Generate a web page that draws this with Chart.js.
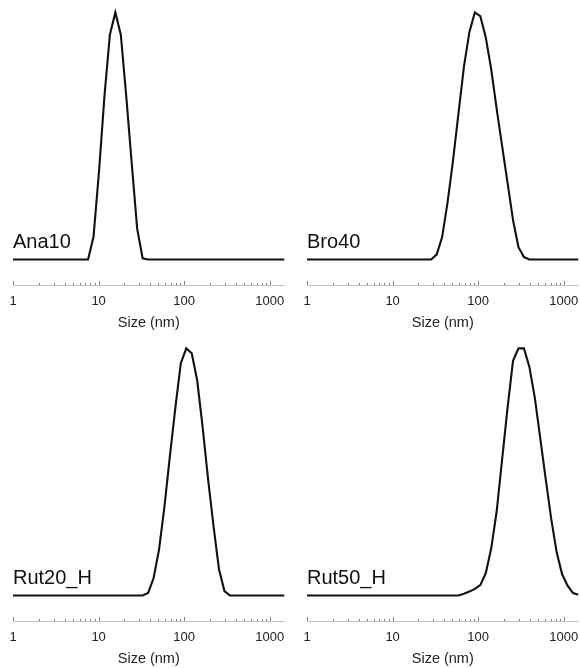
<!DOCTYPE html>
<html>
<head>
<meta charset="utf-8">
<title>Size distributions</title>
<script src="https://cdn.jsdelivr.net/npm/chart.js@4.4.1/dist/chart.umd.min.js"></script>
<style>
    html, body { margin: 0; padding: 0; background: #fff; }
    body { width: 580px; height: 668px; position: relative; overflow: hidden; }
    canvas { position: absolute; }
</style>
</head>
<body>
<canvas id="ana10" width="290" height="332" style="left:0;top:0"></canvas>
<canvas id="bro40" width="290" height="332" style="left:294px;top:0"></canvas>
<canvas id="rut20" width="290" height="332" style="left:0;top:336px"></canvas>
<canvas id="rut50" width="290" height="332" style="left:294px;top:336px"></canvas>
<script>
// Size bins (nm) and relative intensity for each sample
const ana10Size = [1, 7.531, 8.721, 10.1, 11.7, 13.54, 15.69, 18.17, 21.04, 24.36, 28.21, 32.67, 37.84, 1484];
const ana10Int  = [0, 0, 9.2, 35.5, 66, 91, 100, 91, 66, 39, 12.5, 0.5, 0, 0];

const bro40Size = [1, 28.21, 32.67, 37.84, 43.82, 50.75, 58.77, 68.06, 78.82, 91.28, 105.7, 122.4, 141.8, 164.2, 190.1, 220.2, 255.0, 295.3, 342.0, 396.1, 1484];
const bro40Int  = [0, 0, 2, 9, 23, 40, 59, 78, 92, 100, 98.5, 90, 77, 61, 46, 31, 16, 5, 1, 0, 0];

const rut20Size = [1, 32.67, 37.84, 43.82, 50.75, 58.77, 68.06, 78.82, 91.28, 105.7, 122.4, 141.8, 164.2, 190.1, 220.2, 255.0, 295.3, 342.0, 1484];
const rut20Int  = [0, 0, 1, 7, 18.5, 36, 56.5, 76, 94, 100, 98, 87, 68, 47, 28, 10.5, 1.8, 0, 0];

const rut50Size = [1, 58.77, 68.06, 78.82, 91.28, 105.7, 122.4, 141.8, 164.2, 190.1, 220.2, 255.0, 295.3, 342.0, 396.1, 458.7, 531.2, 615.1, 712.4, 825.0, 955.4, 1106, 1281, 1484];
const rut50Int  = [0, 0, 0.7, 1.6, 2.7, 4.2, 9, 19, 34, 55, 76, 95, 100, 100, 92.5, 80, 63.5, 47, 31, 17.5, 8.6, 4, 1, 0.3];

const tickLabels = [1, 10, 100, 1000];
const sizeMin = 1;
const sizeMax = 1484;

const FONT = '"Liberation Sans", Arial, sans-serif';

// Sample name written just above the baseline
const panelLabel = {
    id: 'panelLabel',
    afterDatasetsDraw(chart, args, opts) {
        const { ctx, chartArea } = chart;
        const y0 = chart.scales.y.getPixelForValue(0);
        ctx.save();
        ctx.font = '20px ' + FONT;
        ctx.fillStyle = '#111';
        ctx.textBaseline = 'alphabetic';
        ctx.fillText(opts.text, chartArea.left, y0 - 12);
        ctx.restore();
    }
};

// Small tick marks pointing up from the size axis
const upTicks = {
    id: 'upTicks',
    afterDraw(chart) {
        const sc = chart.scales.x;
        const ctx = chart.ctx;
        ctx.save();
        ctx.strokeStyle = '#808080';
        ctx.lineWidth = 1;
        sc.ticks.forEach((t) => {
            const v = t.value;
            const exp = Math.floor(Math.log10(v) + 1e-9);
            const sig = v / Math.pow(10, exp);
            if (Math.abs(sig - Math.round(sig)) > 1e-6) return;
            const major = Math.round(sig) === 1;
            const x = Math.round(sc.getPixelForValue(v)) + 0.5;
            ctx.beginPath();
            ctx.moveTo(x, sc.top);
            ctx.lineTo(x, sc.top - (major ? 4 : 2));
            ctx.stroke();
        });
        ctx.restore();
    }
};

function makeChart(id, label, sizes, values) {
    const ctx = document.getElementById(id).getContext('2d');
    const points = sizes.map((s, i) => ({ x: s, y: values[i] }));
    return new Chart(ctx, {
        type: 'line',
        data: {
            datasets: [{
                data: points,
                borderColor: '#111',
                borderWidth: 2.1,
                pointRadius: 0,
                tension: 0,
                fill: false
            }]
        },
        options: {
            responsive: false,
            animation: false,
            events: [],
            layout: { padding: { left: 13, right: 5.5, top: 4, bottom: 0 } },
            plugins: {
                legend: { display: false },
                tooltip: { enabled: false },
                panelLabel: { text: label }
            },
            scales: {
                x: {
                    type: 'logarithmic',
                    min: sizeMin,
                    max: sizeMax,
                    afterFit: (scale) => { scale.height = 47; },
                    // tick length only spaces the labels; marks are drawn by upTicks
                    grid: { display: false, drawTicks: true, tickLength: 4 },
                    border: { display: true, color: '#c4c4c4', width: 1 },
                    ticks: {
                        autoSkip: false,
                        maxRotation: 0,
                        padding: 4.5,
                        color: '#222',
                        font: { family: FONT, size: 13 },
                        callback: (v) => tickLabels.includes(v) ? String(v) : ''
                    },
                    title: {
                        display: true,
                        text: 'Size (nm)',
                        color: '#222',
                        font: { family: FONT, size: 14.5 },
                        padding: { top: 4, bottom: 0 }
                    }
                },
                y: {
                    display: false,
                    min: -10.3,
                    max: 103.4
                }
            }
        },
        plugins: [panelLabel, upTicks]
    });
}

makeChart('ana10', 'Ana10', ana10Size, ana10Int);
makeChart('bro40', 'Bro40', bro40Size, bro40Int);
makeChart('rut20', 'Rut20_H', rut20Size, rut20Int);
makeChart('rut50', 'Rut50_H', rut50Size, rut50Int);
</script>
</body>
</html>
